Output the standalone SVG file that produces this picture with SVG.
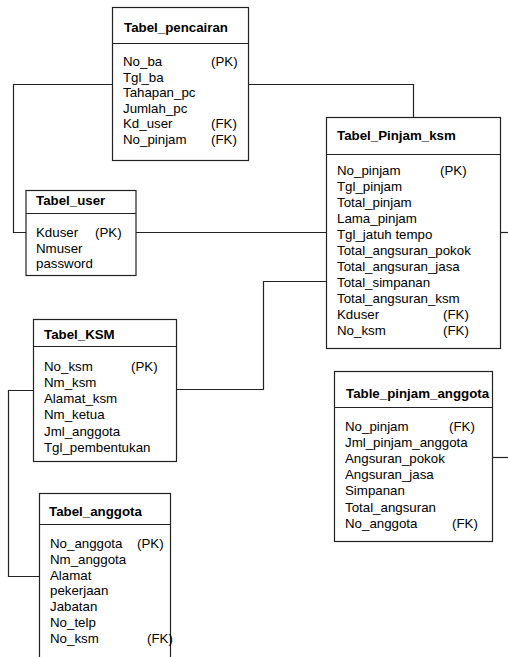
<svg xmlns="http://www.w3.org/2000/svg" width="508" height="657" viewBox="0 0 508 657">
<style>
.box{fill:#fff;stroke:#222;stroke-width:1.2}
.div{stroke:#222;stroke-width:1.2}
.con{fill:none;stroke:#222;stroke-width:1.2}
text{font-family:"Liberation Sans",Arial,sans-serif;font-size:13.3px;fill:#000}
.t{font-weight:bold}
</style>
<rect width="508" height="657" fill="#fff"/>
<g id="connectors">
<polyline class="con" points="112.5,84.5 13.5,84.5 13.5,232.5 26,232.5"/>
<polyline class="con" points="248,84.5 413.5,84.5 413.5,118"/>
<line class="con" x1="136" y1="232.5" x2="326" y2="232.5"/>
<line class="con" x1="501" y1="232.5" x2="508" y2="232.5"/>
<polyline class="con" points="326,281.5 263.5,281.5 263.5,389.5 176,389.5"/>
<polyline class="con" points="33.5,390.5 8.5,390.5 8.5,576.5 39.5,576.5"/>
<line class="con" x1="493" y1="457.5" x2="508" y2="457.5"/>
</g>
<g id="tabel_pencairan">
<rect class="box" x="112.5" y="7.5" width="136" height="153"/>
<line class="div" x1="112.5" y1="43.5" x2="248.5" y2="43.5"/>
<text class="t" x="124" y="32">Tabel_pencairan</text>
<text x="123" y="66">No_ba</text><text x="211" y="66">(PK)</text>
<text x="123" y="81.5">Tgl_ba</text>
<text x="123" y="97">Tahapan_pc</text>
<text x="123" y="112.5">Jumlah_pc</text>
<text x="123" y="128">Kd_user</text><text x="211" y="128">(FK)</text>
<text x="123" y="143.5">No_pinjam</text><text x="211" y="143.5">(FK)</text>
</g>
<g id="tabel_pinjam_ksm">
<rect class="box" x="326.5" y="117.5" width="174" height="231"/>
<line class="div" x1="326.5" y1="154.5" x2="500.5" y2="154.5"/>
<text class="t" x="337" y="140">Tabel_Pinjam_ksm</text>
<text x="337" y="174.5">No_pinjam</text><text x="440" y="174.5">(PK)</text>
<text x="337" y="190.5">Tgl_pinjam</text>
<text x="337" y="206.5">Total_pinjam</text>
<text x="337" y="222.5">Lama_pinjam</text>
<text x="337" y="238.5">Tgl_jatuh tempo</text>
<text x="337" y="254.5">Total_angsuran_pokok</text>
<text x="337" y="270.5">Total_angsuran_jasa</text>
<text x="337" y="286.5">Total_simpanan</text>
<text x="337" y="302.5">Total_angsuran_ksm</text>
<text x="337" y="318.5">Kduser</text><text x="443" y="318.5">(FK)</text>
<text x="337" y="334.5">No_ksm</text><text x="443" y="334.5">(FK)</text>
</g>
<g id="tabel_user">
<rect class="box" x="26" y="190.5" width="110" height="85"/>
<line class="div" x1="26" y1="213.5" x2="136" y2="213.5"/>
<text class="t" x="36" y="205">Tabel_user</text>
<text x="36" y="237">Kduser</text><text x="95" y="237">(PK)</text>
<text x="36" y="252.5">Nmuser</text>
<text x="36" y="268">password</text>
</g>
<g id="tabel_ksm">
<rect class="box" x="33.5" y="319.5" width="143" height="142"/>
<line class="div" x1="33.5" y1="346.5" x2="176.5" y2="346.5"/>
<text class="t" x="44" y="338.5">Tabel_KSM</text>
<text x="44" y="370.5">No_ksm</text><text x="131" y="370.5">(PK)</text>
<text x="44" y="386.8">Nm_ksm</text>
<text x="44" y="403.1">Alamat_ksm</text>
<text x="44" y="419.4">Nm_ketua</text>
<text x="44" y="435.7">Jml_anggota</text>
<text x="44" y="452">Tgl_pembentukan</text>
</g>
<g id="tabel_anggota">
<rect class="box" x="39.5" y="493.5" width="131" height="175"/>
<line class="div" x1="39.5" y1="524.5" x2="170.5" y2="524.5"/>
<text class="t" x="49" y="516">Tabel_anggota</text>
<text x="50" y="548">No_anggota</text><text x="137" y="548">(PK)</text>
<text x="50" y="563.8">Nm_anggota</text>
<text x="50" y="579.6">Alamat</text>
<text x="50" y="595.4">pekerjaan</text>
<text x="50" y="611.2">Jabatan</text>
<text x="50" y="627">No_telp</text>
<text x="50" y="642.8">No_ksm</text><text x="147" y="642.8">(FK)</text>
</g>
<g id="table_pinjam_anggota">
<rect class="box" x="334.5" y="371.5" width="158" height="170"/>
<line class="div" x1="334.5" y1="407.5" x2="492.5" y2="407.5"/>
<text class="t" x="346" y="398">Table_pinjam_anggota</text>
<text x="345" y="430.5">No_pinjam</text><text x="449" y="430.5">(FK)</text>
<text x="345" y="446.7">Jml_pinjam_anggota</text>
<text x="345" y="462.9">Angsuran_pokok</text>
<text x="345" y="479.1">Angsuran_jasa</text>
<text x="345" y="495.3">Simpanan</text>
<text x="345" y="511.5">Total_angsuran</text>
<text x="345" y="527.7">No_anggota</text><text x="452" y="527.7">(FK)</text>
</g>
</svg>
